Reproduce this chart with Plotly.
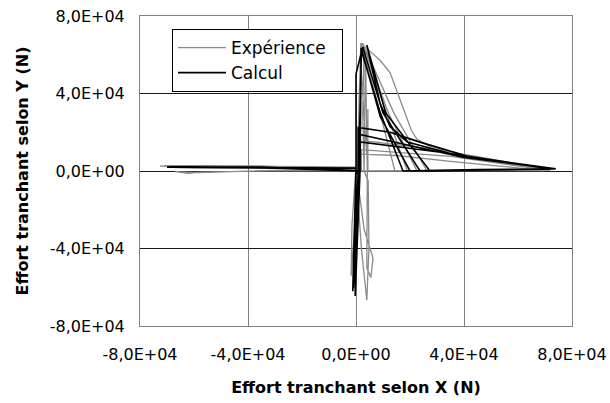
import plotly.graph_objects as go

# ---- tick labels ----
tick_vals = [-80000, -40000, 0, 40000, 80000]
tick_text = ["-8,0E+04", "-4,0E+04", "0,0E+00", "4,0E+04", "8,0E+04"]

# ---- Expérience (gray) : force path X, Y (N) ----
exp_x = [0, -40000, -72600, -60000, -30000, 0, -1500, -1800, -500, 500, 1200, 1800, 8000, 14400,
         40000, 70000, 35000, 15000, 1500, 1500,
         -30000, -58000, -67000, -62000, -58000, -30000, 0, 2000, 4000, 4800, 4500, 3000, 2500, 3000,
         10000, 19000, 45000, 71000, 35000, 2000, 2000,
         -35000, -71000, -40000, 0, 3000, 6300, 5500, 4000, 4200, 3500, 2500, 12000, 22600, 72000,
         30000, 4400, 4400, 4400,
         2000, 1800, 5000, 9000, 12600, 15500, 18000, 20500, 22600, 27000, 35000, 50000, 72000,
         3000, 3500, 14000, 26300, 0]
exp_y = [0, 2300, 2500, 2700, 2400, 2000, -28000, -54000, -30000, 0, 40000, 66000, 35000, 0,
         300, 200, 5000, 8000, 8700, 0,
         300, -800, -300, -1200, -600, 100, 300, -40000, -66700, -40000, -5000, 0, 30000, 64000,
         35000, 0, 600, 500, 7500, 11000, 0,
         2600, 2800, 2500, 1800, -30000, -45000, -55000, -50000, 0, 60000, 66000, 30000, 0, 800,
         11000, 15400, 32000, 0,
         50000, 66000, 62000, 57000, 50800, 40000, 30000, 21000, 16400, 13000, 10000, 5500, 500,
         0, 63000, 30000, 0, 0]

# ---- Calcul (black) : force path X, Y (N) ----
calc_x = [0, -30000, -68000, -30000, 0, -600, -1000, 500, 1000, 1500, 2000, 9000, 17400, 45000,
          73500, 41000, 23700, 12600, 800, 800,
          -35000, -69000, -35000, 0, -1200, 800, 0, 0, 2500, 10000, 23700, 74000, 38500, 19000,
          12600, 8900, 4000,
          11000, 27400, 73000, 40000, 20000, 1000, 1000,
          -35000, -70000, -35000, 0, -300, 1500, 1900, 9000, 20000, 72000, 35000, 1500, 1500, 0]
calc_y = [0, 1500, 1800, 1600, 1200, -30000, -60500, -30000, 0, 30000, 62000, 30000, 0, 800,
          900, 7700, 14900, 20000, 22500, 0,
          2000, 2100, 1900, 1500, -62000, -2000, 0, 50000, 64000, 30000, 0, 1200, 7700, 15000,
          23000, 35000, 65000,
          30000, 0, 1200, 7000, 13000, 19000, 0,
          1700, 1900, 1700, 1300, -64500, 0, 63500, 28000, 0, 1000, 9000, 15000, 0, 0]

fig = go.Figure()
fig.add_trace(go.Scatter(x=exp_x, y=exp_y, mode="lines", name="Expérience\u00a0\u00a0",
                         line=dict(color="#8a8a8a", width=1.3)))
fig.add_trace(go.Scatter(x=calc_x, y=calc_y, mode="lines", name="Calcul",
                         line=dict(color="#000000", width=1.6)))

font_family = "DejaVu Sans, Arial, sans-serif"
fig.update_layout(
    width=610, height=403,
    margin=dict(l=140, r=38, t=16, b=77),
    paper_bgcolor="white", plot_bgcolor="white",
    font=dict(family=font_family, size=16, color="black"),
    showlegend=True,
    legend=dict(x=0.074, y=0.958, xanchor="left", yanchor="top",
                bgcolor="white", bordercolor="black", borderwidth=1,
                itemwidth=48, tracegroupgap=0,
                font=dict(size=17, family=font_family)),
    xaxis=dict(range=[-80000, 80000], tickvals=tick_vals, ticktext=tick_text,
               showgrid=True, gridcolor="#808080", gridwidth=1, zeroline=False,
               showline=True, linecolor="#808080", linewidth=1, mirror=True,
               ticks="", ticklabelstandoff=14, automargin=False,
               ticklabeloverflow="allow",
               title=dict(text="<b>Effort tranchant selon X (N)</b>", standoff=18,
                          font=dict(size=16, family=font_family))),
    yaxis=dict(range=[-80000, 80000], tickvals=tick_vals, ticktext=tick_text,
               showgrid=True, gridcolor="#1a1a1a", gridwidth=1, zeroline=False,
               showline=True, linecolor="#808080", linewidth=1, mirror=True,
               ticks="", ticklabelstandoff=11, automargin=False,
               ticklabeloverflow="allow",
               title=dict(text="<b>Effort tranchant selon Y (N)</b>", standoff=17,
                          font=dict(size=16, family=font_family))),
)

fig.write_html("out.html", config={"displayModeBar": False},
               post_script="document.body.style.margin='0px';")
